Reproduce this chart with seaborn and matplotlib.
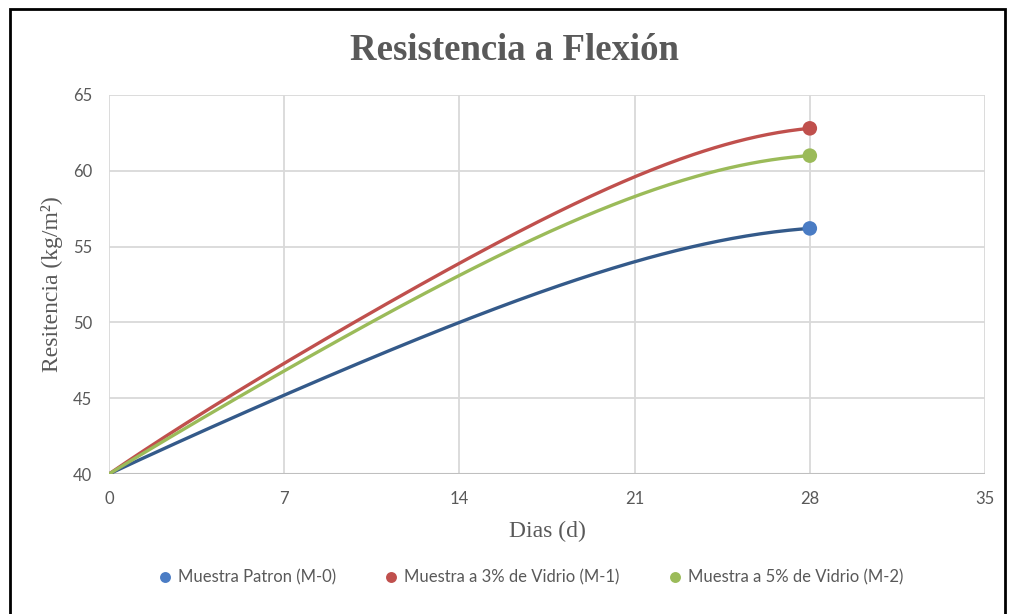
import numpy as np
import pandas as pd
import matplotlib
matplotlib.use("Agg")
import matplotlib.pyplot as plt
import seaborn as sns
from matplotlib.patches import Rectangle

dias = [0, 7, 14, 21, 28]
m0 = [40.0, 45.2, 50.0, 54.0, 56.2]
m1 = [40.0, 47.3, 53.9, 59.6, 62.8]
m2 = [40.0, 46.8, 53.1, 58.3, 61.0]
series = ['Muestra Patron (M-0)', 'Muestra a 3% de Vidrio (M-1)', 'Muestra a 5% de Vidrio (M-2)']
line_colors = ['#345A8A', '#C0504D', '#9BBB59']
marker_colors = ['#4A7CC4', '#C0504D', '#9BBB59']

sns.set_style('white')
grey = '#595959'

fig = plt.figure(figsize=(10.11, 6.14), dpi=100)
ax = fig.add_axes([0.1078, 0.228, 0.8665, 0.6173])

# smooth curves through the points
rows = []
for name, vals in zip(series, [m0, m1, m2]):
    coef = np.polyfit(dias, vals, len(dias) - 1)
    xs = np.linspace(dias[0], dias[-1], 200)
    for x, y in zip(xs, np.polyval(coef, xs)):
        rows.append({'dias': x, 'res': y, 'serie': name})
curves = pd.DataFrame(rows)
ends = pd.DataFrame({'dias': [dias[-1]] * 3, 'res': [m0[-1], m1[-1], m2[-1]], 'serie': series})

sns.lineplot(data=curves, x='dias', y='res', hue='serie', palette=line_colors,
             linewidth=2.4, ax=ax, legend=False, sort=False)
sns.scatterplot(data=ends, x='dias', y='res', hue='serie', palette=marker_colors,
                s=110, edgecolor='none', ax=ax, zorder=5)

ax.set_xlim(0, 35)
ax.set_ylim(40, 65)
ax.set_xticks([0, 7, 14, 21, 28, 35])
ax.set_yticks([40, 45, 50, 55, 60, 65])
ax.grid(True, color='#D9D9D9', linewidth=1.3)
ax.set_axisbelow(True)
for s in ax.spines.values():
    s.set_visible(False)
ax.axhline(40, color='#BFBFBF', linewidth=1.5, zorder=1)
ax.tick_params(axis='both', length=0, labelsize=12, labelcolor=grey, pad=12)
for lab in ax.get_xticklabels() + ax.get_yticklabels():
    lab.set_family('Lato')

ax.set_xlabel('Dias (d)', family='Liberation Serif', fontsize=17, color=grey, labelpad=10)
ax.set_ylabel('Resitencia (kg/m²)', family='Liberation Serif', fontsize=17, color=grey, labelpad=7)

fig.text(0.509, 0.918, 'Resistencia a Flexión', ha='center', va='center',
         family='Liberation Serif', fontweight='bold', fontsize=26.5, color=grey)

leg = ax.legend(loc='center', bbox_to_anchor=(0.52, 0.059), bbox_transform=fig.transFigure,
                ncol=3, frameon=False, handletextpad=-0.2, columnspacing=2.3,
                markerscale=0.75, prop={'family': 'Lato', 'size': 12})
for t in leg.get_texts():
    t.set_color(grey)

fig.patches.append(Rectangle((0.01, -0.05), 0.984, 1.035, transform=fig.transFigure,
                             fill=False, edgecolor='black', linewidth=2))

fig.savefig('out.png', dpi=100)
